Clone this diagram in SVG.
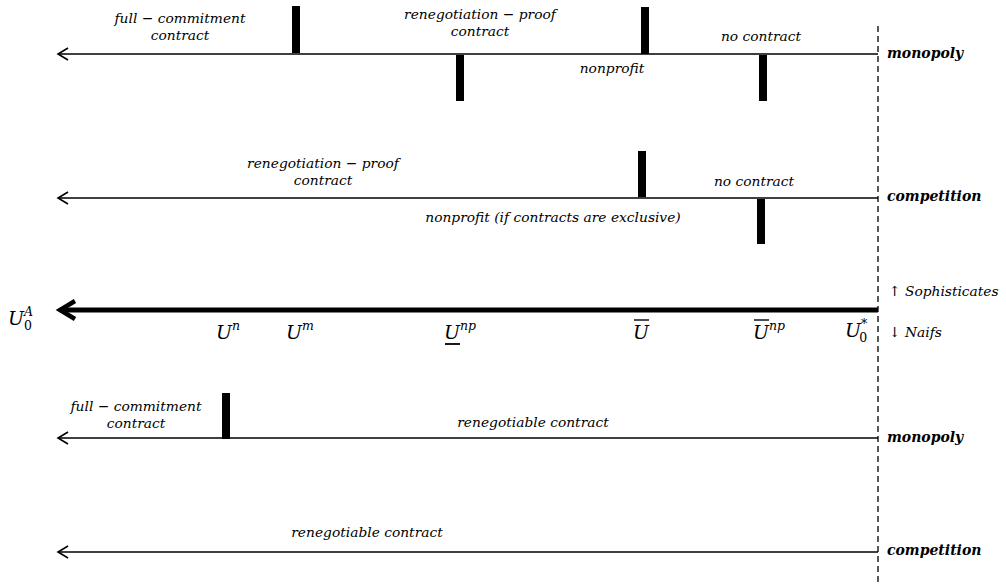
<svg xmlns="http://www.w3.org/2000/svg" width="1006" height="585" viewBox="0 0 1006 585">
<defs>
<style>
.t{font-family:"DejaVu Serif","Liberation Serif",serif;font-style:italic;font-size:13.8px;fill:#000}
.b{font-family:"DejaVu Serif","Liberation Serif",serif;font-style:italic;font-weight:bold;font-size:14px;fill:#000}
.m{font-family:"DejaVu Serif","Liberation Serif",serif;font-style:italic;font-size:19px;fill:#000}
.s{font-size:12.5px}
.u{font-style:normal}
.ln{stroke:#000;stroke-width:1.6;fill:none}
.ah{stroke:#000;stroke-width:1.6;fill:none}
.bar{fill:#000}
</style>
</defs>
<rect width="1006" height="585" fill="#fff"/>
<g id="connectors">
<line x1="878" y1="26" x2="878" y2="585" stroke="#000" stroke-width="1.3" stroke-dasharray="6,4"/>
<line class="ln" x1="58" y1="54" x2="878" y2="54"/>
<polyline class="ah" points="68,48 58,54 68,60"/>
<line class="ln" x1="58" y1="198" x2="878" y2="198"/>
<polyline class="ah" points="68,192 58,198 68,204"/>
<line x1="60" y1="310" x2="878" y2="310" stroke="#000" stroke-width="5"/>
<polyline points="75,301 60,310 75,319" stroke="#000" stroke-width="4.5" fill="none" stroke-linejoin="miter"/>
<line class="ln" x1="58" y1="438" x2="878" y2="438"/>
<polyline class="ah" points="68,432 58,438 68,444"/>
<line class="ln" x1="58" y1="552" x2="878" y2="552"/>
<polyline class="ah" points="68,546 58,552 68,558"/>
</g>
<g id="monopoly-soph">
<rect class="bar" x="292" y="6" width="8" height="47"/>
<rect class="bar" x="456" y="55" width="8" height="46"/>
<rect class="bar" x="641" y="7" width="8" height="47"/>
<rect class="bar" x="759" y="55" width="8" height="46"/>
<text class="t" x="180" y="23" text-anchor="middle">full − commitment</text>
<text class="t" x="180" y="40" text-anchor="middle">contract</text>
<text class="t" x="480" y="19" text-anchor="middle">renegotiation − proof</text>
<text class="t" x="480" y="36" text-anchor="middle">contract</text>
<text class="t" x="612" y="73" text-anchor="middle">nonprofit</text>
<text class="t" x="761" y="41" text-anchor="middle">no contract</text>
<text class="b" x="887" y="58">monopoly</text>
</g>
<g id="competition-soph">
<rect class="bar" x="638" y="151" width="8" height="46"/>
<rect class="bar" x="757" y="199" width="8" height="45"/>
<text class="t" x="323" y="168" text-anchor="middle">renegotiation − proof</text>
<text class="t" x="323" y="185" text-anchor="middle">contract</text>
<text class="t" x="553" y="222" text-anchor="middle">nonprofit (if contracts are exclusive)</text>
<text class="t" x="754" y="186" text-anchor="middle">no contract</text>
<text class="b" x="887" y="201">competition</text>
</g>
<g id="axis">
<text class="m" x="8" y="325">U<tspan class="s" dy="-9">A</tspan><tspan class="s u" dx="-9" dy="14">0</tspan></text>
<text class="m" x="216" y="339">U<tspan class="s" dy="-9">n</tspan></text>
<text class="m" x="286" y="339">U<tspan class="s" dy="-9">m</tspan></text>
<text class="m" x="444" y="339">U<tspan class="s" dy="-9">np</tspan></text>
<line x1="445" y1="344" x2="460" y2="344" stroke="#000" stroke-width="1.8"/>
<text class="m" x="633" y="339">U</text>
<line x1="634" y1="320" x2="649" y2="320" stroke="#000" stroke-width="1.4"/>
<text class="m" x="753" y="339">U<tspan class="s" dy="-9">np</tspan></text>
<line x1="754" y1="320" x2="769" y2="320" stroke="#000" stroke-width="1.4"/>
<text class="m" x="845" y="337">U<tspan class="s" dy="-9">*</tspan><tspan class="s u" dx="-8" dy="14">0</tspan></text>
<text class="t" x="889" y="296">↑ Sophisticates</text>
<text class="t" x="889" y="337">↓ Naifs</text>
</g>
<g id="monopoly-naif">
<rect class="bar" x="222" y="393" width="8" height="46"/>
<text class="t" x="136" y="411" text-anchor="middle">full − commitment</text>
<text class="t" x="136" y="428" text-anchor="middle">contract</text>
<text class="t" x="533" y="427" text-anchor="middle">renegotiable contract</text>
<text class="b" x="887" y="442">monopoly</text>
</g>
<g id="competition-naif">
<text class="t" x="367" y="537" text-anchor="middle">renegotiable contract</text>
<text class="b" x="887" y="555">competition</text>
</g>
</svg>
